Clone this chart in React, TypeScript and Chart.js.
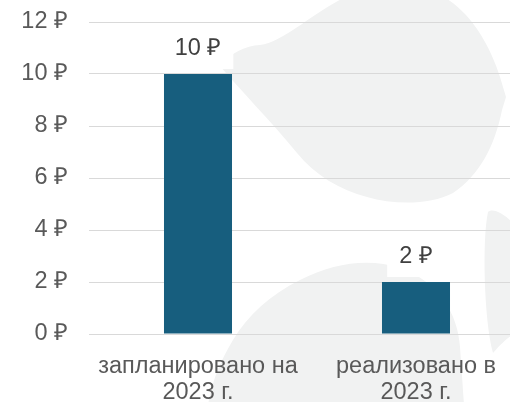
import React, { useEffect, useRef } from "react";
import { Chart, registerables } from "chart.js";

Chart.register(...registerables);

const categories: string[][] = [
  ["запланировано на", "2023 г."],
  ["реализовано в", "2023 г."],
];
const values: number[] = [10, 2];
const yMin = 0;
const yMax = 12;
const yStep = 2;
const currency = "₽";

const FONT = "'Liberation Sans', Arial, sans-serif";
const FS = 23.5;

// faint decorative watermark behind the plot (background art, not data)
const watermark = {
  id: "watermark",
  beforeDraw(chart: any) {
    const ctx = chart.ctx;
    ctx.save();
    ctx.fillStyle = "#f1f2f2";
    // upper leaf
    ctx.beginPath();
    ctx.moveTo(220, 66);
    ctx.bezierCurveTo(232, 52, 245, 46, 260, 45);
    ctx.bezierCurveTo(285, 42, 315, 10, 350, -5);
    ctx.lineTo(440, -5);
    ctx.bezierCurveTo(470, 10, 490, 45, 500, 77);
    ctx.lineTo(506, 97);
    ctx.lineTo(502, 110);
    ctx.bezierCurveTo(495, 145, 480, 175, 453, 193);
    ctx.bezierCurveTo(430, 205, 395, 205, 367, 197);
    ctx.bezierCurveTo(340, 190, 315, 175, 297, 153);
    ctx.bezierCurveTo(270, 120, 240, 90, 220, 66);
    ctx.closePath();
    ctx.fill();
    // lower leaf
    ctx.beginPath();
    ctx.moveTo(208, 405);
    ctx.bezierCurveTo(212, 380, 222, 358, 233, 340);
    ctx.bezierCurveTo(248, 315, 270, 295, 300, 280);
    ctx.bezierCurveTo(335, 262, 370, 258, 400, 268);
    ctx.bezierCurveTo(440, 282, 458, 315, 460, 347);
    ctx.lineTo(464, 405);
    ctx.closePath();
    ctx.fill();
    // right edge leaf
    ctx.beginPath();
    ctx.moveTo(512, 222);
    ctx.bezierCurveTo(502, 212, 492, 208, 488, 212);
    ctx.bezierCurveTo(482, 240, 484, 320, 493, 353);
    ctx.bezierCurveTo(500, 345, 505, 340, 512, 335);
    ctx.closePath();
    ctx.fill();
    ctx.restore();
  },
};

const valueLabels = {
  id: "valueLabels",
  afterDatasetsDraw(chart: any) {
    const ctx = chart.ctx;
    const meta = chart.getDatasetMeta(0);
    ctx.save();
    ctx.font = `${FS}px ${FONT}`;
    ctx.textAlign = "center";
    ctx.textBaseline = "middle";
    meta.data.forEach((el: any, i: number) => {
      const text = `${values[i]} ${currency}`;
      const w = ctx.measureText(text).width;
      const cy = el.y - 25;
      ctx.fillStyle = "#ffffff";
      ctx.fillRect(el.x - w / 2 - 12, cy - 17, w + 24, 37);
      ctx.fillStyle = "#404040";
      ctx.fillText(text, el.x, cy);
    });
    ctx.restore();
  },
};

export default function App() {
  const ref = useRef<HTMLCanvasElement | null>(null);

  useEffect(() => {
    if (!ref.current) return;
    const chart = new Chart(ref.current, {
      type: "bar",
      data: {
        labels: categories,
        datasets: [
          {
            data: values,
            backgroundColor: "#175E7E",
            categoryPercentage: 1,
            barPercentage: 0.312,
          },
        ],
      },
      options: {
        animation: false,
        responsive: false,
        layout: { padding: { top: 22, right: 15, bottom: 0, left: 0 } },
        plugins: {
          legend: { display: false },
          tooltip: { enabled: false },
        },
        scales: {
          x: {
            grid: { display: false },
            border: { display: false },
            ticks: {
              color: "#595959",
              font: { family: FONT, size: FS, lineHeight: 1.1 },
              padding: 12,
              maxRotation: 0,
              autoSkip: false,
            },
            afterFit(scale: any) {
              scale.height = 68;
            },
          },
          y: {
            min: yMin,
            max: yMax,
            grid: { color: "#d9d9d9", lineWidth: 1, drawTicks: false },
            border: { display: false },
            ticks: {
              stepSize: yStep,
              color: "#595959",
              font: { family: FONT, size: FS },
              padding: 21,
              callback: (v: any) => `${v} ${currency}`,
            },
            afterFit(scale: any) {
              scale.width = 89;
              scale.paddingTop = 0;
              scale.paddingBottom = 0;
            },
          },
        },
      },
      plugins: [watermark, valueLabels],
    });
    return () => chart.destroy();
  }, []);

  return (
    <div
      style={{
        position: "absolute",
        left: 0,
        top: 0,
        width: 510,
        height: 402,
        overflow: "hidden",
        background: "#ffffff",
      }}
    >
      <canvas ref={ref} width={540} height={402} style={{ display: "block" }} />
    </div>
  );
}
